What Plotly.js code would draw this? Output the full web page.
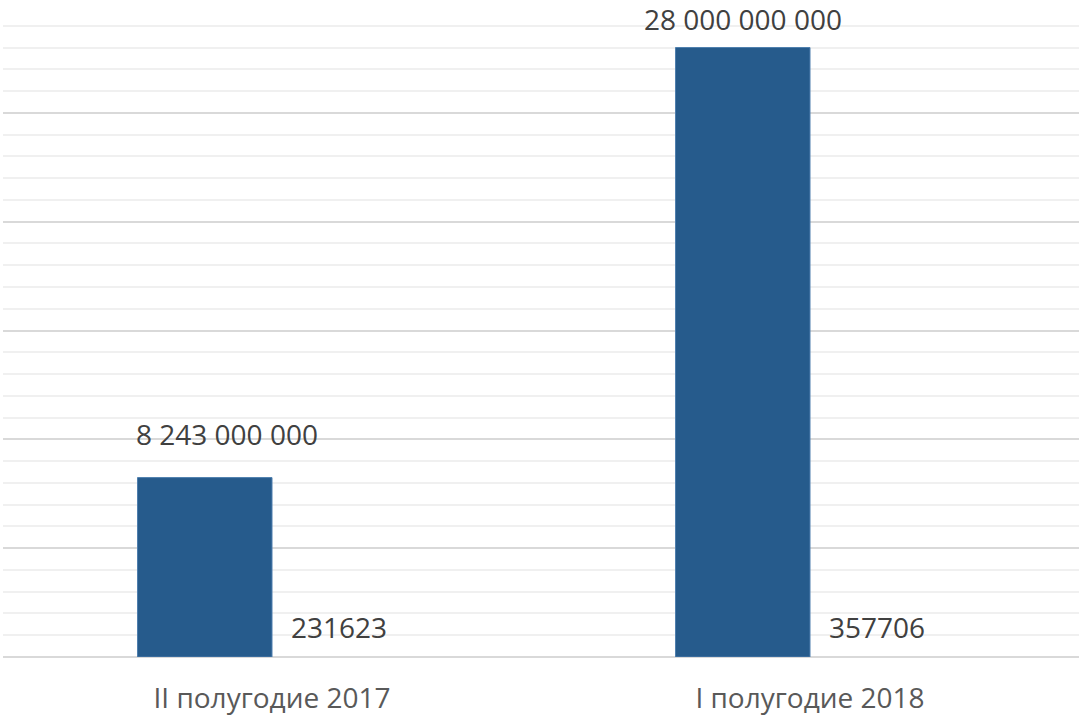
<!DOCTYPE html>
<html>
<head>
<meta charset="utf-8">
<script src="https://cdn.plot.ly/plotly-3.0.1.min.js"></script>
<style>html,body{margin:0;padding:0;background:#fff;}#chart{width:1079px;height:715px;}</style>
</head>
<body>
<div id="chart"></div>
<script>
// Data
const categories = ["II полугодие 2017", "I полугодие 2018"];
const series1 = [8243000000, 28000000000];
const series2 = [231623, 357706];
const series1Labels = ["8 243 000 000", "28 000 000 000"];
const series2Labels = ["231623", "357706"];

const barColor = "#265B8C";
const labelFont = {family: "Open Sans, sans-serif", size: 28, color: "#404040"};

const traces = [
  {type: "bar", x: categories, y: series1, marker: {color: barColor, line: {color: "#4f7fae", width: 1}}, hoverinfo: "none"},
  {type: "bar", x: categories, y: series2, marker: {color: barColor}, hoverinfo: "none"}
];

// label placement (style only, pixel offsets)
const s1Shift = [[22, 44], [0, 29]];
const s2Shift = [[0, 30], [0, 30]];
const annotations = [];
categories.forEach((c, i) => {
  annotations.push({x: i - 0.125, y: series1[i], xref: "x", yref: "y", text: series1Labels[i],
    showarrow: false, font: labelFont, xanchor: "center", yanchor: "middle", borderpad: 0,
    xshift: s1Shift[i][0], yshift: s1Shift[i][1]});
  annotations.push({x: i + 0.125, y: series2[i], xref: "x", yref: "y", text: series2Labels[i],
    showarrow: false, font: labelFont, xanchor: "center", yanchor: "middle", borderpad: 0,
    xshift: s2Shift[i][0], yshift: s2Shift[i][1]});
});

const layout = {
  width: 1079, height: 715,
  margin: {l: 3, r: 0, t: 4, b: 58},
  paper_bgcolor: "#ffffff", plot_bgcolor: "#ffffff",
  showlegend: false,
  barmode: "group", bargap: 0.5, bargroupgap: 0,
  xaxis: {type: "category", showgrid: false, zeroline: false, showline: false,
    ticks: "", ticklabelstandoff: 22,
    tickfont: {family: "Open Sans, sans-serif", size: 28, color: "#595959"}},
  yaxis: {range: [0, 30000000000], dtick: 5000000000, showticklabels: false, ticks: "",
    showgrid: true, gridcolor: "#d9d9d9", gridwidth: 2, zeroline: true, zerolinecolor: "#d9d9d9", zerolinewidth: 2,
    minor: {dtick: 1000000000, showgrid: true, gridcolor: "#f0f0f0", gridwidth: 2}},
  annotations: annotations
};

Plotly.newPlot("chart", traces, layout, {displayModeBar: false, staticPlot: true});
</script>
</body>
</html>
